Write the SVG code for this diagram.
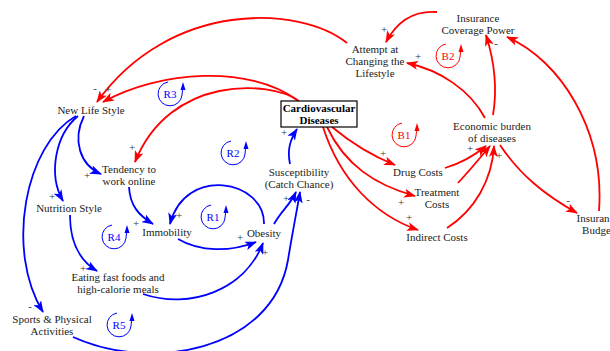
<svg xmlns="http://www.w3.org/2000/svg" width="610" height="351" viewBox="0 0 610 351">
<style>
text{font-family:"Liberation Serif","Times New Roman",serif;font-size:11px;fill:#222;text-anchor:middle}
.b{font-weight:bold;fill:#000}
.r{fill:none;stroke:#f00;stroke-width:1.8;marker-end:url(#ar)}
.u{fill:none;stroke:#00f;stroke-width:1.8;marker-end:url(#au)}
.s{font-size:11px;fill:#333}
.lr{fill:none;stroke:#f00;stroke-width:1}
.lu{fill:none;stroke:#00f;stroke-width:1}
.tr{fill:#f00}
.tu{fill:#00f}
</style>
<defs>
<marker id="ar" viewBox="0 0 12 9" refX="11" refY="4.5" markerWidth="12" markerHeight="9" orient="auto" markerUnits="userSpaceOnUse"><path d="M0,0 L12,4.5 L0,9 L3,4.5 z" fill="#f00"/></marker>
<marker id="au" viewBox="0 0 12 9" refX="11" refY="4.5" markerWidth="12" markerHeight="9" orient="auto" markerUnits="userSpaceOnUse"><path d="M0,0 L12,4.5 L0,9 L3,4.5 z" fill="#00f"/></marker>
</defs>
<rect width="610" height="351" fill="#fff"/>
<g id="connectors">
<path class="r" d="M437 12 C410 10,395 25,386 42"/>
<path class="r" d="M347 43 C300 5,170 0,97 102"/>
<path class="r" d="M297 100 C250 65,160 70,103 102"/>
<path class="r" d="M299 101 C270 80,170 75,135 162"/>
<path class="r" d="M485 118 C470 90,440 70,407 63"/>
<path class="r" d="M493 115 C498 85,494 60,486 35"/>
<path class="r" d="M599 211 C605 130,560 60,507 37"/>
<path class="r" d="M500 145 C520 175,545 195,577 213"/>
<path class="r" d="M332 127 C350 142,370 155,395 165"/>
<path class="r" d="M327 127 C345 165,375 185,415 196"/>
<path class="r" d="M323 127 C340 180,375 215,418 230"/>
<path class="r" d="M445 168 C462 163,475 155,486 146"/>
<path class="r" d="M458 183 C470 170,480 158,490 146"/>
<path class="r" d="M447 228 C475 210,492 180,494 146"/>
<path class="u" d="M84 116 C72 140,80 165,101 174"/>
<path class="u" d="M78 116 C55 135,48 175,63 201"/>
<path class="u" d="M76 116 C25 145,5 250,43 312"/>
<path class="u" d="M129 187 C130 205,138 215,153 224"/>
<path class="u" d="M70 215 C70 245,82 262,97 271"/>
<path class="u" d="M178 239 C200 252,230 252,256 242"/>
<path class="u" d="M264 224 C265 180,185 165,170 224"/>
<path class="u" d="M143 294 C190 310,245 290,263 243"/>
<path class="u" d="M274 224 C282 210,290 205,296 192"/>
<path class="u" d="M73 337 C150 372,272 352,288 260 C292 235,297 210,300 192"/>
<path class="u" d="M290 164 C287 150,290 140,297 129"/>
</g>
<g id="polarities">
<text class="s" x="384" y="33">+</text>
<text class="s" x="95" y="92">-</text>
<text class="s" x="108" y="93">+</text>
<text class="s" x="132" y="151">+</text>
<text class="s" x="418" y="60">+</text>
<text class="s" x="496" y="47">-</text>
<text class="s" x="383" y="157">+</text>
<text class="s" x="470" y="152">+</text>
<text class="s" x="499" y="159">+</text>
<text class="s" x="401" y="206">+</text>
<text class="s" x="409" y="221">+</text>
<text class="s" x="568" y="204">-</text>
<text class="s" x="284" y="136">+</text>
<text class="s" x="286" y="202">+</text>
<text class="s" x="308" y="203">-</text>
<text class="s" x="87" y="179">+</text>
<text class="s" x="52" y="200">+</text>
<text class="s" x="30" y="310">-</text>
<text class="s" x="136" y="227">+</text>
<text class="s" x="179" y="219">+</text>
<text class="s" x="240" y="241">+</text>
<text class="s" x="265" y="256">+</text>
<text class="s" x="83" y="272">+</text>
</g>
<g id="insuranceCoverage"><text x="478" y="22">Insurance</text><text x="478" y="34">Coverage Power</text></g>
<g id="attempt"><text x="375" y="53">Attempt at</text><text x="375" y="65">Changing the</text><text x="375" y="77">Lifestyle</text></g>
<g id="cardio"><rect x="281" y="101" width="76" height="26" fill="#fff" stroke="#000" stroke-width="1.2"/><text class="b" x="319" y="112">Cardiovascular</text><text class="b" x="319" y="124">Diseases</text></g>
<g id="economic"><text x="492" y="130">Economic burden</text><text x="492" y="142">of diseases</text></g>
<g id="drug"><text x="418" y="176">Drug Costs</text></g>
<g id="treatment"><text x="437" y="196">Treatment</text><text x="437" y="208">Costs</text></g>
<g id="indirect"><text x="437" y="241">Indirect Costs</text></g>
<g id="budget"><text x="598" y="222">Insurance</text><text x="598" y="234">Budget</text></g>
<g id="newlife"><text x="91" y="114">New Life Style</text></g>
<g id="tendency"><text x="129" y="173">Tendency to</text><text x="129" y="185">work online</text></g>
<g id="nutrition"><text x="69" y="212">Nutrition Style</text></g>
<g id="immobility"><text x="167" y="236">Immobility</text></g>
<g id="obesity"><text x="264" y="237">Obesity</text></g>
<g id="susceptibility"><text x="299" y="176">Susceptibility</text><text x="299" y="188">(Catch Chance)</text></g>
<g id="eating"><text x="118" y="281">Eating fast foods and</text><text x="118" y="293">high-calorie meals</text></g>
<g id="sports"><text x="52" y="323">Sports &amp; Physical</text><text x="52" y="335">Activities</text></g>
<g id="loopR3" transform="translate(170,94)"><path class="lu" d="M-2 -12 A12 12 0 1 0 12 1 L12.5 -4"/><polygon class="tu" points="13,-12 10.5,-4 15.5,-4"/><text x="0" y="4" style="fill:#00f">R3</text></g>
<g id="loopR2" transform="translate(233,153)"><path class="lu" d="M-2 -12 A12 12 0 1 0 12 1 L12.5 -4"/><polygon class="tu" points="13,-12 10.5,-4 15.5,-4"/><text x="0" y="4" style="fill:#00f">R2</text></g>
<g id="loopR1" transform="translate(213,217)"><path class="lu" d="M-2 -12 A12 12 0 1 0 12 1 L12.5 -4"/><polygon class="tu" points="13,-12 10.5,-4 15.5,-4"/><text x="0" y="4" style="fill:#00f">R1</text></g>
<g id="loopR4" transform="translate(114,237)"><path class="lu" d="M-2 -12 A12 12 0 1 0 12 1 L12.5 -4"/><polygon class="tu" points="13,-12 10.5,-4 15.5,-4"/><text x="0" y="4" style="fill:#00f">R4</text></g>
<g id="loopR5" transform="translate(119,325)"><path class="lu" d="M-2 -12 A12 12 0 1 0 12 1 L12.5 -4"/><polygon class="tu" points="13,-12 10.5,-4 15.5,-4"/><text x="0" y="4" style="fill:#00f">R5</text></g>
<g id="loopB1" transform="translate(404,135)"><path class="lr" d="M-2 -12 A12 12 0 1 0 12 1 L12.5 -4"/><polygon class="tr" points="13,-12 10.5,-4 15.5,-4"/><text x="0" y="4" style="fill:#f00">B1</text></g>
<g id="loopB2" transform="translate(448,56)"><path class="lr" d="M-2 -12 A12 12 0 1 0 12 1 L12.5 -4"/><polygon class="tr" points="13,-12 10.5,-4 15.5,-4"/><text x="0" y="4" style="fill:#f00">B2</text></g>
</svg>
